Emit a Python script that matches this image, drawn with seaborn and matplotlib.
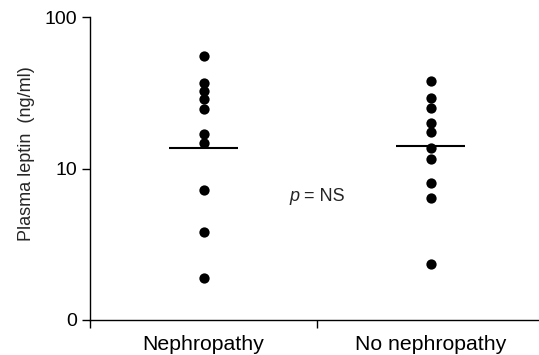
import matplotlib
matplotlib.use("Agg")
import matplotlib.pyplot as plt
import seaborn as sns
import pandas as pd
from matplotlib.ticker import FixedLocator, FixedFormatter, NullLocator

categories = ["Nephropathy", "No nephropathy"]
nephropathy = [55.3, 36.8, 32.5, 28.6, 24.8, 16.8, 14.8, 7.2, 3.83, 1.88]
no_nephropathy = [37.9, 29.2, 25.1, 20.1, 17.4, 13.7, 11.5, 8.0, 6.35, 2.34]
center_lines = [13.7, 14.0]
ytick_values = [1, 10, 100]
ytick_labels = ["0", "10", "100"]

df = pd.DataFrame({
    "group": [categories[0]] * len(nephropathy) + [categories[1]] * len(no_nephropathy),
    "leptin": nephropathy + no_nephropathy,
})

sns.set_style("ticks")
plt.rcParams["font.family"] = ["Liberation Sans", "DejaVu Sans"]

fig = plt.figure(figsize=(5.39, 3.55), dpi=100)
ax = fig.add_axes([90 / 539, 1 - 320 / 355, 454 / 539, 303 / 355])

sns.stripplot(data=df, x="group", y="leptin", order=categories, jitter=False,
              color="black", size=7.4, linewidth=0, ax=ax)
ax.set_yscale("log")
ax.set_ylim(1, 100)
ax.set_xlim(-0.5, 1.5)

for i, v in enumerate(center_lines):
    ax.hlines(v, i - 0.152, i + 0.152, color="black", linewidth=1.5)

ax.yaxis.set_major_locator(FixedLocator(ytick_values))
ax.yaxis.set_major_formatter(FixedFormatter(ytick_labels))
ax.yaxis.set_minor_locator(NullLocator())
ax.xaxis.set_major_locator(FixedLocator([-0.5, 0.5, 1.5]))
ax.set_xticklabels([])
ax.xaxis.set_minor_locator(FixedLocator([0, 1]))
ax.xaxis.set_minor_formatter(FixedFormatter(categories))
ax.tick_params(axis="x", which="minor", length=0, labelsize=15.3, pad=11, colors="black")
ax.tick_params(axis="both", which="major", length=5.5, width=1, direction="out",
               labelsize=14, colors="black", pad=4)
ax.set_xlabel("")
ax.set_ylabel("Plasma leptin  (ng/ml)", fontsize=13)
ax.yaxis.set_label_coords(-(90 - 35) / 454, (320 - 153.5) / 303)

for s in ["top", "right"]:
    ax.spines[s].set_visible(False)
for s in ["left", "bottom"]:
    ax.spines[s].set_linewidth(1)
    ax.spines[s].set_color("black")

ax.text(0.422, 6.5, "p", fontsize=13, ha="right", va="center", style="italic")
ax.text(0.422, 6.5, " = NS", fontsize=13, ha="left", va="center")

fig.savefig("out.png", dpi=100)
